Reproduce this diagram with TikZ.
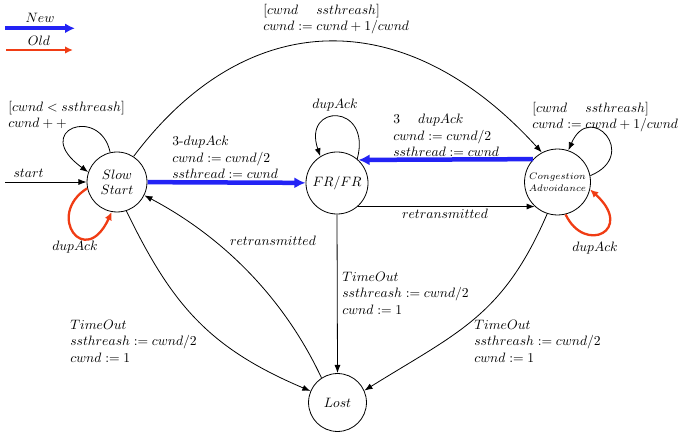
\documentclass[tikz,border=0pt]{standalone}
\usetikzlibrary{arrows.meta}
\definecolor{newblue}{RGB}{35,35,245}
\definecolor{oldred}{RGB}{240,60,20}

\begin{document}
\begin{tikzpicture}[x=1pt,y=-1pt,
  every node/.style={scale=1.36, font=\fontsize{10}{12}\selectfont},
  state/.style={draw, circle, line width=0.8pt, inner sep=0pt, align=center,
    font=\fontsize{10}{11}\selectfont},
  edge/.style={line width=0.8pt, -{Latex[length=8pt,width=6pt]}},
  newedge/.style={draw=newblue, line width=4.5pt, -{Latex[length=11pt,width=11pt]}},
  oldedge/.style={draw=oldred, line width=2.3pt, -{Latex[length=8pt,width=7.5pt]}},
  lbl/.style={align=left, inner sep=0pt, anchor=north west},
  tag/.style={inner sep=0pt}]
\useasboundingbox (0,0) rectangle (679,435);

% legend
\coordinate (newa) at (5,28.3);
\coordinate (newb) at (75,28.3);
\coordinate (olda) at (6,50);
\coordinate (oldb) at (73,50);
\draw[newedge, line width=4pt, -{Latex[length=10pt,width=10pt]}] (newa) -- (newb);
\draw[oldedge, line width=2pt] (olda) -- (oldb);
\node[tag] (newtxt) at (40,18) {$New$};
\node[tag] (oldtxt) at (39,41) {$Old$};

% states (sizes are before the node scale)
\node[state, minimum size=44.1pt] (ss) at (117,182) {$Slow$\\$Start$};
\node[state, minimum size=45.6pt] (fr) at (337,183) {$FR/FR$};
\node[state, minimum size=48.5pt, font=\fontsize{7}{8.5}\selectfont]
  (ca) at (557.5,182) {$Congestion$\\$Advoidance$};
\node[state, minimum size=42.6pt] (lost) at (337.5,402.5) {$Lost$};

% start arrow
\coordinate (init) at (5,182);
\draw[edge] (init) -- (ss);
\node[tag] (starttxt) at (28.5,173) {$start$};

% slow start
\draw[edge] (ss.103) .. controls (100,105) and (30,130) .. (ss.161);
\node[lbl] (ssloop) at (8,101) {$[cwnd < ssthreash]$\\$cwnd++$};
\draw[oldedge] (ss.192) .. controls (45,215) and (85,270) .. (ss.260);
\node[tag] (ssdup) at (75,247) {$dupAck$};

\draw[newedge] (ss) -- (fr);
\node[lbl] (ssfr) at (172,136) {$3$-$dupAck$\\$cwnd := cwnd/2$\\$ssthread := cwnd$};

\draw[edge] (ss.57) .. controls (248,4) and (407,4) .. (ca.118);
\node[lbl] (ssca) at (263,4) {$[cwnd \mathrel{\phantom{\geq}} ssthreash]$\\$cwnd := cwnd + 1/cwnd$};

\draw[edge] (ss.-72) .. controls (172,305) and (209,348) .. (lost.157);
\node[lbl] (sslost) at (70,320) {$TimeOut$\\$ssthreash := cwnd/2$\\$cwnd := 1$};

% fast recovery
\draw[edge] (fr.50) .. controls (372,103) and (302,103) .. (fr.122);
\node[tag] (frdup) at (335,105) {$dupAck$};

\draw[edge] (fr.-48) -- (ca.227);
\node[tag] (frca) at (445,214) {$retransmitted$};

\draw[edge] (fr.south) -- (lost.north);
\node[lbl] (frlost) at (342,272) {$TimeOut$\\$ssthreash := cwnd/2$\\$cwnd := 1$};

% congestion avoidance
\draw[newedge] (ca.137) -- (fr.47);
\node[lbl] (cafr) at (393,114) {$3 \mathrel{\phantom{\geq}} dupAck$\\$cwnd := cwnd/2$\\$ssthread := cwnd$};

\draw[edge] (ca.11) .. controls (640,155) and (590,100) .. (ca.71);
\node[lbl] (caloop) at (532,102) {$[cwnd \mathrel{\phantom{\geq}} ssthreash]$\\$cwnd := cwnd + 1/cwnd$};

\draw[oldedge] (ca.284) .. controls (585,255) and (635,230) .. (ca.347);
\node[tag] (cadup) at (595,248) {$dupAck$};

\draw[edge] (ca.-108) .. controls (503,316) and (458.5,332) .. (lost.24);
\node[lbl] (calost) at (474,320) {$TimeOut$\\$ssthreash := cwnd/2$\\$cwnd := 1$};

% lost
\draw[edge] (lost.123) .. controls (285,300) and (225,238) .. (ss.-26);
\node[tag] (lostss) at (273,241) {$retransmitted$};
\end{tikzpicture}
\end{document}
